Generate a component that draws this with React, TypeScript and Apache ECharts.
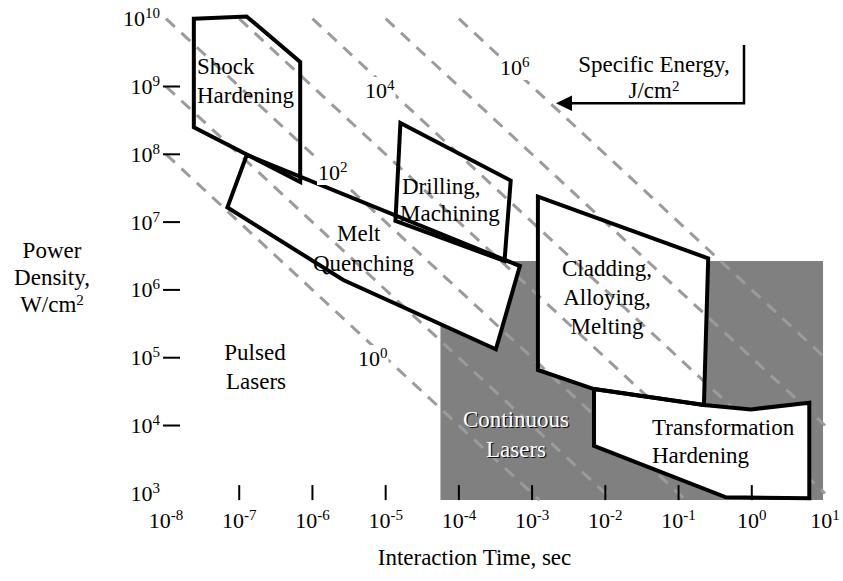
import React, { useEffect, useRef } from 'react';
import * as echarts from 'echarts';

const SERIF = '"Liberation Serif", "Times New Roman", Times, serif';

// Axis ranges: interaction time (s) and power density (W/cm²)
const TIME_MIN = 1e-8;
const TIME_MAX = 1e1;
const POWER_MIN = Math.pow(10, 2.9);
const POWER_MAX = 1e10;

// Decades that carry a short tick mark
const timeTickMarks = [1e-7, 1e-6, 1e-5, 1e-4, 1e-3, 1e-2, 1e-1, 1e0];
const powerTickMarks = [1e4, 1e5, 1e6, 1e7, 1e8, 1e9];

// Lines of constant specific energy (J/cm²) = power density × time
const specificEnergies = [1e0, 1e1, 1e2, 1e3, 1e4, 1e5, 1e6];

type Pt = [number, number];

// Process windows, vertices as [time s, power density W/cm²]
const shockHardening: Pt[] = [[2.4e-8, 1.0e10], [1.26e-7, 1.08e10], [6.8e-7, 2.3e9], [6.8e-7, 3.9e7], [2.4e-8, 2.5e8]];
const meltQuenching: Pt[] = [[1.27e-7, 9.8e7], [6.8e-4, 2.25e6], [3.2e-4, 1.33e5], [2.64e-6, 1.4e6], [6.9e-8, 1.65e7]];
const drillingMachining: Pt[] = [[1.59e-5, 2.9e8], [5.1e-4, 4.1e7], [4.2e-4, 2.67e6], [1.36e-5, 1.04e7]];
const claddingAlloyingMelting: Pt[] = [[1.2e-3, 2.37e7], [0.254, 2.92e6], [0.222, 2.01e4], [7.0e-3, 3.45e4], [1.2e-3, 6.6e4]];
const transformationHardening: Pt[] = [[7.0e-3, 3.45e4], [0.222, 2.01e4], [0.975, 1.73e4], [6.1, 2.17e4], [6.1, 844], [0.444, 873], [7.0e-3, 4990]];
// Continuous-laser domain: [time, power] of two opposite corners
const continuousLasers: Pt[] = [[5.6e-5, POWER_MIN], [9.4, 2.67e6]];

const supRich = (base: number, sup: number, lh: number) => ({
  b: { fontFamily: SERIF, fontSize: base, color: '#000', lineHeight: lh },
  s: { fontFamily: SERIF, fontSize: sup, color: '#000', lineHeight: sup, verticalAlign: 'top' },
});

const powLabel = (v: number) => {
  const e = Math.log10(v);
  const r = Math.round(e);
  if (Math.abs(e - r) > 1e-6) return '';
  return `{b|10}{s|${r}}`;
};

const polygonSeries = (name: string, pts: Pt[], z: number, fill: string, stroke: string) => ({
  type: 'custom',
  name,
  z,
  silent: true,
  coordinateSystem: 'cartesian2d',
  data: pts,
  encode: { x: 0, y: 1 },
  renderItem: (params: any, api: any) => {
    if (params.dataIndex !== 0) return null;
    return {
      type: 'polygon',
      shape: { points: pts.map((p) => api.coord(p)) },
      style: { fill, stroke, lineWidth: stroke === 'none' ? 0 : 4, lineJoin: 'miter' },
    };
  },
});

const rectCorners = (c: Pt[]): Pt[] => [
  [c[0][0], c[0][1]],
  [c[1][0], c[0][1]],
  [c[1][0], c[1][1]],
  [c[0][0], c[1][1]],
];

const energyLineSeries = (E: number) => {
  const t0 = Math.max(TIME_MIN, E / POWER_MAX);
  const t1 = Math.min(TIME_MAX, E / POWER_MIN);
  return {
    type: 'line',
    name: `E=${E}`,
    z: 3,
    silent: true,
    symbol: 'none',
    data: [
      [t0, E / t0],
      [t1, E / t1],
    ],
    lineStyle: { color: '#9b9b9b', width: 3, type: [12, 9] },
  };
};

const tickSeries = (axis: 'x' | 'y') => ({
  type: 'custom',
  name: `${axis}-ticks`,
  z: 6,
  silent: true,
  coordinateSystem: 'cartesian2d',
  data: axis === 'x' ? timeTickMarks.map((t) => [t, POWER_MIN]) : powerTickMarks.map((p) => [TIME_MIN, p]),
  encode: { x: 0, y: 1 },
  renderItem: (params: any, api: any) => {
    const [x, y] = api.coord([api.value(0), api.value(1)]);
    const shape = axis === 'x' ? { x1: x, y1: y - 15, x2: x, y2: y } : { x1: x - 3, y1: y, x2: x + 14, y2: y };
    return { type: 'line', shape, style: { stroke: '#000', lineWidth: 2 } };
  },
});

const text = (x: number, y: number, t: string, extra: any = {}) => ({
  type: 'text',
  x,
  y,
  z: 100,
  silent: true,
  style: {
    text: t,
    fontFamily: SERIF,
    fontSize: 23,
    fill: '#000',
    align: 'left',
    verticalAlign: 'middle',
    ...extra,
  },
});

const energyText = (x: number, y: number, exp: string) =>
  text(x, y, `{b|10}{s|${exp}}`, {
    rich: supRich(22, 15, 26),
    backgroundColor: '#fff',
    padding: [0, 1, 0, 1],
  });

export default function App() {
  const ref = useRef<HTMLDivElement>(null);

  useEffect(() => {
    if (!ref.current) return;
    const chart = echarts.init(ref.current, null, { renderer: 'svg' });

    const option: any = {
      animation: false,
      backgroundColor: '#fff',
      grid: { left: 166, right: 18, top: 18.7, bottom: 80.9, containLabel: false },
      xAxis: {
        type: 'log',
        logBase: 10,
        min: TIME_MIN,
        max: TIME_MAX,
        splitNumber: 10,
        axisLine: { show: false },
        axisTick: { show: false },
        splitLine: { show: false },
        axisLabel: {
          margin: 7,
          formatter: (v: number) => powLabel(v),
          rich: supRich(22, 15, 26),
          showMinLabel: true,
          showMaxLabel: true,
        },
      },
      yAxis: {
        type: 'log',
        logBase: 10,
        min: POWER_MIN,
        max: POWER_MAX,
        splitNumber: 10,
        axisLine: { show: false },
        axisTick: { show: false },
        splitLine: { show: false },
        axisLabel: {
          margin: 6,
          formatter: (v: number) => powLabel(v),
          rich: supRich(22, 15, 26),
          showMinLabel: true,
          showMaxLabel: true,
        },
      },
      series: [
        polygonSeries('Continuous Lasers', rectCorners(continuousLasers), 1, '#808080', 'none'),
        polygonSeries('Shock Hardening fill', shockHardening, 2, '#fff', 'none'),
        polygonSeries('Melt Quenching fill', meltQuenching, 2, '#fff', 'none'),
        polygonSeries('Drilling fill', drillingMachining, 2, '#fff', 'none'),
        polygonSeries('Cladding fill', claddingAlloyingMelting, 2, '#fff', 'none'),
        ...specificEnergies.map(energyLineSeries),
        polygonSeries('Transformation Hardening fill', transformationHardening, 4, '#fff', 'none'),
        polygonSeries('Shock Hardening', shockHardening, 5, 'none', '#000'),
        polygonSeries('Melt Quenching', meltQuenching, 5, 'none', '#000'),
        polygonSeries('Drilling, Machining', drillingMachining, 5, 'none', '#000'),
        polygonSeries('Cladding, Alloying, Melting', claddingAlloyingMelting, 5, 'none', '#000'),
        polygonSeries('Transformation Hardening', transformationHardening, 5, 'none', '#000'),
        tickSeries('x'),
        tickSeries('y'),
      ],
      graphic: [
        // axis titles
        text(52, 250, 'Power', { align: 'center' }),
        text(52, 277, 'Density,', { align: 'center' }),
        text(52, 304, '{b|W/cm}{s|2}', { align: 'center', rich: supRich(23, 15, 24) }),
        text(474.5, 557, 'Interaction Time, sec', { align: 'center' }),
        // specific energy note with arrow
        text(654, 64, 'Specific Energy,', { align: 'center' }),
        text(654, 90, '{b|J/cm}{s|2}', { align: 'center', rich: supRich(23, 15, 24) }),
        {
          type: 'polyline',
          z: 100,
          silent: true,
          shape: { points: [[744, 45], [744, 103.3], [568, 103.3]] },
          style: { stroke: '#000', lineWidth: 2.5, fill: 'none' },
        },
        {
          type: 'polygon',
          z: 100,
          silent: true,
          shape: { points: [[556, 103.3], [572, 95.5], [572, 111]] },
          style: { fill: '#000' },
        },
        // specific energy line labels
        energyText(357, 358, '0'),
        energyText(317, 172, '2'),
        energyText(364, 90, '4'),
        energyText(499, 67, '6'),
        // process windows
        text(197, 66, 'Shock'),
        text(197, 95, 'Hardening'),
        text(402, 186, 'Drilling,'),
        text(400, 213, 'Machining'),
        text(337, 233, 'Melt'),
        text(313, 263, 'Quenching'),
        text(607, 268, 'Cladding,', { align: 'center' }),
        text(607, 297, 'Alloying,', { align: 'center' }),
        text(607, 326, 'Melting', { align: 'center' }),
        text(652, 427, 'Transformation'),
        text(652, 455, 'Hardening'),
        text(517.2, 420.2, 'Continuous', { align: 'center', fill: '#111' }),
        text(517.2, 450.2, 'Lasers', { align: 'center', fill: '#111' }),
        text(516, 419, 'Continuous', { align: 'center', fill: '#fff' }),
        text(516, 449, 'Lasers', { align: 'center', fill: '#fff' }),
        text(255, 352, 'Pulsed', { align: 'center' }),
        text(256, 381, 'Lasers', { align: 'center' }),
      ],
    };

    chart.setOption(option);
    return () => chart.dispose();
  }, []);

  return (
    <div
      ref={ref}
      style={{ position: 'fixed', left: 0, top: 0, width: 843, height: 581, background: '#fff' }}
    />
  );
}
